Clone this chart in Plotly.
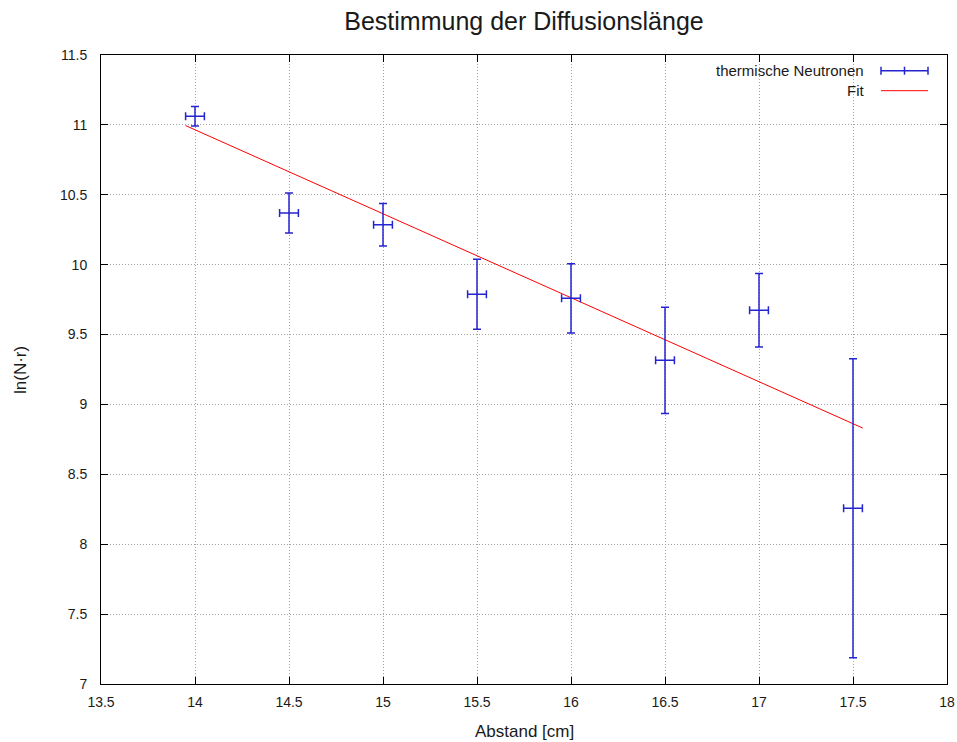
import plotly.graph_objects as go

# Data
abstand = [14.0, 14.5, 15.0, 15.5, 16.0, 16.5, 17.0, 17.5]
ln_nr = [11.062, 10.369, 10.286, 9.788, 9.759, 9.316, 9.674, 8.257]
ln_nr_err = [0.07, 0.143, 0.152, 0.25, 0.248, 0.38, 0.263, 1.07]
abstand_err = [0.05, 0.05, 0.05, 0.05, 0.05, 0.05, 0.05, 0.05]

fit_x = [13.95, 17.552]
fit_y = [10.995, 8.831]

x_ticks = [13.5, 14, 14.5, 15, 15.5, 16, 16.5, 17, 17.5, 18]
y_ticks = [7, 7.5, 8, 8.5, 9, 9.5, 10, 10.5, 11, 11.5]

BLUE = "#2424d0"
RED = "#ff0000"
FONT = "Liberation Sans, Arial, sans-serif"
TXT = "#1a1a1a"

fig = go.Figure()

fig.add_trace(go.Scatter(
    x=fit_x, y=fit_y, mode="lines",
    line=dict(color=RED, width=1),
    name="Fit", showlegend=False, hoverinfo="skip",
))

fig.add_trace(go.Scatter(
    x=abstand, y=ln_nr, mode="markers",
    marker=dict(size=1, color=BLUE),
    error_y=dict(type="data", array=ln_nr_err, visible=True, color=BLUE, thickness=1.5, width=4),
    error_x=dict(type="data", array=abstand_err, visible=True, color=BLUE, thickness=1.5, width=4),
    name="thermische Neutronen", showlegend=False,
))

axis_common = dict(
    showline=True, linecolor="black", linewidth=1, mirror="ticks",
    ticks="inside", ticklen=7, tickcolor="black", tickwidth=1,
    showgrid=True, gridcolor="#a0a0a0", gridwidth=1, griddash="1px,2px",
    zeroline=False, tickfont=dict(family=FONT, size=14, color=TXT),
)

L, R, T, B = 101, 10, 55, 58
W, H = 957, 742

fig.update_layout(
    width=W, height=H,
    paper_bgcolor="white", plot_bgcolor="white",
    margin=dict(l=L, r=R, t=T, b=B, autoexpand=False),
    title=dict(text="Bestimmung der Diffusionslänge", x=(L + W - R) / 2 / W, xanchor="center",
               y=1 - 21 / H, yanchor="middle",
               font=dict(family=FONT, size=25, color=TXT)),
    xaxis=dict(range=[13.5, 18], tickvals=x_ticks, ticktext=[f"{v:g}" for v in x_ticks],
               ticklabelstandoff=5, **axis_common),
    yaxis=dict(range=[7, 11.5], tickvals=y_ticks, ticktext=[f"{v:g}" for v in y_ticks],
               ticklabelstandoff=10, **axis_common),
    font=dict(family=FONT),
    showlegend=False,
)

PW = W - L - R
PH = H - T - B

def px(xp):
    return (xp - L) / PW

def py(yp):
    return (H - B - yp) / PH

# Axis titles
fig.add_annotation(x=px((L + W - R) / 2), y=py(731), xref="paper", yref="paper",
                   text="Abstand [cm]", showarrow=False, xanchor="center", yanchor="middle",
                   font=dict(family=FONT, size=17, color=TXT))
fig.add_annotation(x=px(20), y=py(370), xref="paper", yref="paper",
                   text="ln(N·r)", showarrow=False, xanchor="center", yanchor="middle",
                   textangle=-90, font=dict(family=FONT, size=17, color=TXT))

# Legend background: hides grid lines behind the key, like gnuplot
fig.add_shape(type="rect", xref="paper", yref="paper", layer="between",
              x0=px(712), x1=px(940), y0=py(100), y1=py(56),
              fillcolor="white", line=dict(width=0))

# Custom gnuplot-style legend (text right-aligned, sample on the right)
leg = [("thermische Neutronen", 70.7, "err"), ("Fit", 90.7, "line")]
for text, yy, kind in leg:
    fig.add_annotation(x=px(866), y=py(yy), xref="paper", yref="paper", text=text,
                       showarrow=False, xanchor="right", yanchor="middle",
                       font=dict(family=FONT, size=15, color=TXT))
    color = BLUE if kind == "err" else RED
    w = 1.5 if kind == "err" else 1
    fig.add_shape(type="line", xref="paper", yref="paper", x0=px(881), x1=px(928),
                  y0=py(yy), y1=py(yy), line=dict(color=color, width=w))
    if kind == "err":
        for xc in (881, 904.5, 928):
            fig.add_shape(type="line", xref="paper", yref="paper", x0=px(xc), x1=px(xc),
                          y0=py(yy - 4), y1=py(yy + 4), line=dict(color=color, width=1.5))

fig.write_html("out.html", config={"displayModeBar": False},
               post_script="document.body.style.margin='0';document.body.style.padding='0';")
